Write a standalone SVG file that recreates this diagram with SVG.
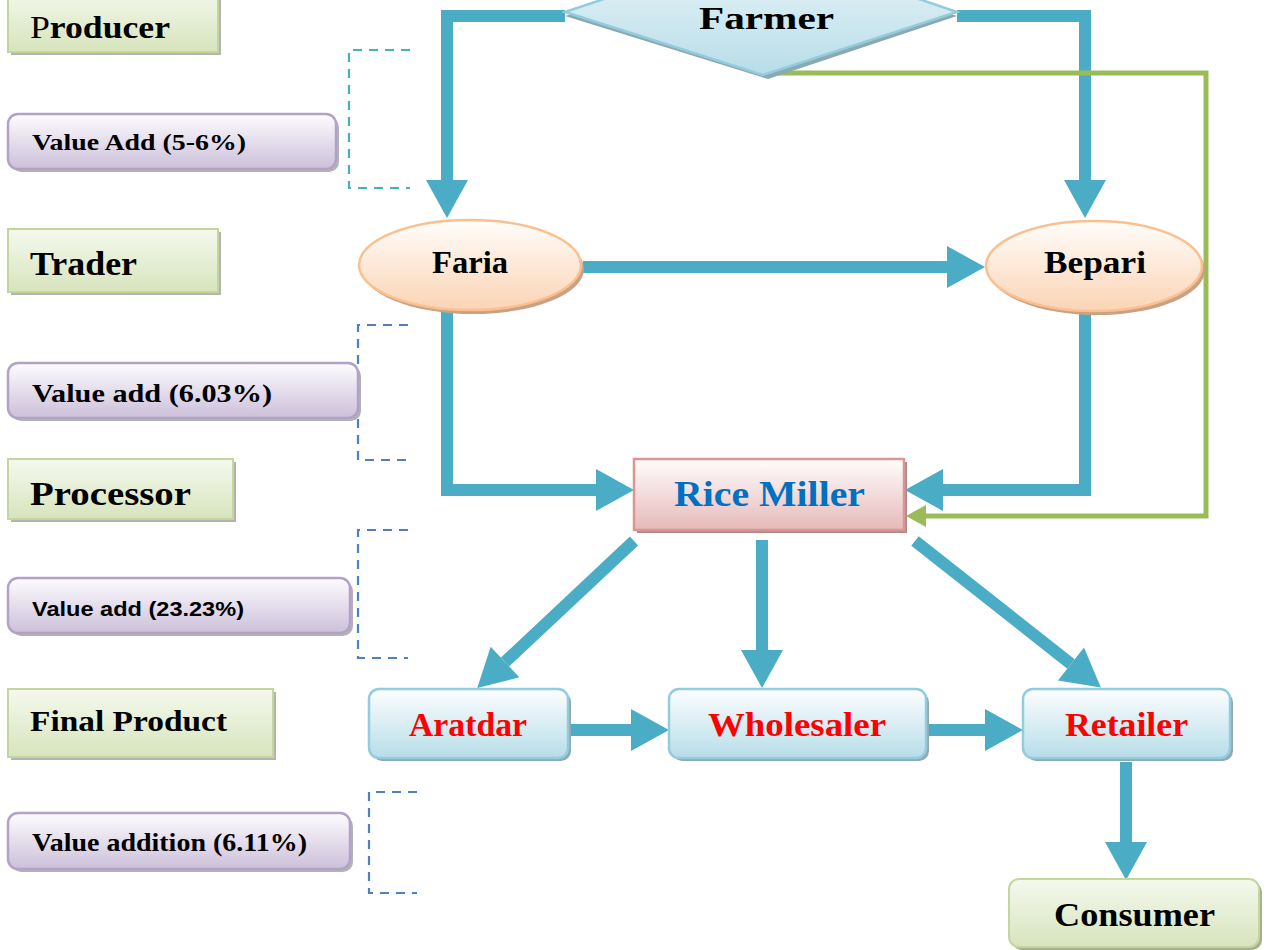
<svg xmlns="http://www.w3.org/2000/svg" width="1267" height="950" viewBox="0 0 1267 950">
<style>
.lbl{font-family:"Liberation Serif","DejaVu Serif",serif;font-weight:bold;fill:#000}
.sans{font-family:"Liberation Sans","Open Sans",sans-serif;font-weight:bold;fill:#000}
.red{fill:#ff0000}
.green{fill:url(#gGreen);stroke:#c3d69b;stroke-width:2}
.purple{fill:url(#gPurple);stroke:#b3a2c7;stroke-width:2.5}
.blue{fill:url(#gBlue);stroke:#93cddd;stroke-width:2.5}
.orange{fill:url(#gOrange);stroke:#fac090;stroke-width:2.5}
.shadow{fill:#9a9a9a;opacity:0.75}
.flow{fill:none;stroke:#4bacc6;stroke-width:12;marker-end:url(#ah)}
.fb{fill:none;stroke:#9bbb59;stroke-width:5;marker-end:url(#ahg)}
.brk{fill:none;stroke:#4f81bd;stroke-width:2.2;stroke-dasharray:9,7}
.brk2{fill:none;stroke:#4bacc6;stroke-width:2.2;stroke-dasharray:9,7}
</style>
<defs>
<linearGradient id="gGreen" x1="0" y1="0" x2="0" y2="1"><stop offset="0" stop-color="#f5f9ee"/><stop offset="1" stop-color="#d7e4bd"/></linearGradient>
<linearGradient id="gPurple" x1="0" y1="0" x2="0" y2="1"><stop offset="0" stop-color="#fdfcfe"/><stop offset="1" stop-color="#ccc0da"/></linearGradient>
<linearGradient id="gBlue" x1="0" y1="0" x2="0" y2="1"><stop offset="0" stop-color="#fdfeff"/><stop offset="1" stop-color="#b7dde8"/></linearGradient>
<linearGradient id="gOrange" x1="0" y1="0" x2="0" y2="1"><stop offset="0" stop-color="#fffdfb"/><stop offset="1" stop-color="#fbd4b4"/></linearGradient>
<linearGradient id="gPink" x1="0" y1="0" x2="0" y2="1"><stop offset="0" stop-color="#fffdfd"/><stop offset="1" stop-color="#e6b9b8"/></linearGradient>
<linearGradient id="gDiamond" x1="0" y1="0" x2="0" y2="1"><stop offset="0" stop-color="#eef7fa"/><stop offset="1" stop-color="#b7dde8"/></linearGradient>
<marker id="ah" markerUnits="userSpaceOnUse" markerWidth="40" markerHeight="42" refX="0" refY="21" orient="auto" overflow="visible"><path d="M0,0 L38,21 L0,42 z" fill="#4bacc6"/></marker>
<marker id="ahg" markerUnits="userSpaceOnUse" markerWidth="22" markerHeight="22" refX="0" refY="11" orient="auto" overflow="visible"><path d="M0,0 L20,11 L0,22 z" fill="#9bbb59"/></marker>
</defs>

<g id="brackets">
<path class="brk2" d="M410,50 H349 V188 H410"/>
<path class="brk" d="M408,325 H358 V460 H408"/>
<path class="brk" d="M408,530 H358 V658 H408"/>
<path class="brk" d="M417,792 H369 V893 H417"/>
</g>

<g id="connectors">
<path class="flow" d="M565,16 H447 V180"/>
<path class="flow" d="M957,16 H1085 V180"/>
<path class="flow" d="M583,267 H947"/>
<path class="flow" d="M447,311 V490 H596"/>
<path class="flow" d="M1085,313 V490 H943"/>
<path class="fb" d="M775,73 H1206 V516 H926"/>
<path class="flow" d="M634,541 L505,662"/>
<path class="flow" d="M762,540 V650"/>
<path class="flow" d="M915,541 L1071,664"/>
<path class="flow" d="M568,730 H631"/>
<path class="flow" d="M926,730 H985"/>
<path class="flow" d="M1126,762 V842"/>
</g>

<g id="producer">
<rect class="shadow" x="11" y="-10" width="210" height="65"/>
<rect class="green" x="8" y="-13" width="210" height="65"/>
<text class="lbl" x="30" y="38" font-size="32" textLength="140" lengthAdjust="spacingAndGlyphs"><tspan style="font-weight:normal">P</tspan>roducer</text>
</g>
<g id="value1">
<rect class="shadow" x="11" y="117" width="328" height="55" rx="10"/>
<rect class="purple" x="8" y="114" width="328" height="55" rx="10"/>
<text class="lbl" x="32" y="150" font-size="23" textLength="214" lengthAdjust="spacingAndGlyphs">Value Add (5-6%)</text>
</g>
<g id="trader">
<rect class="shadow" x="11" y="232" width="210" height="63"/>
<rect class="green" x="8" y="229" width="210" height="63"/>
<text class="lbl" x="30" y="275" font-size="34" textLength="107" lengthAdjust="spacingAndGlyphs">Trader</text>
</g>
<g id="value2">
<rect class="shadow" x="11" y="366" width="350" height="55" rx="10"/>
<rect class="purple" x="8" y="363" width="350" height="55" rx="10"/>
<text class="lbl" x="32" y="402" font-size="25" textLength="240" lengthAdjust="spacingAndGlyphs">Value add (6.03%)</text>
</g>
<g id="processor">
<rect class="shadow" x="11" y="462" width="225" height="60"/>
<rect class="green" x="8" y="459" width="225" height="60"/>
<text class="lbl" x="30" y="505" font-size="34" textLength="161" lengthAdjust="spacingAndGlyphs">Processor</text>
</g>
<g id="value3">
<rect class="shadow" x="11" y="581" width="342" height="55" rx="10"/>
<rect class="purple" x="8" y="578" width="342" height="55" rx="10"/>
<text class="sans" x="32" y="616" font-size="21" textLength="212" lengthAdjust="spacingAndGlyphs">Value add (23.23%)</text>
</g>
<g id="finalproduct">
<rect class="shadow" x="11" y="692" width="265" height="68"/>
<rect class="green" x="8" y="689" width="265" height="68"/>
<text class="lbl" x="30" y="731" font-size="30" textLength="197" lengthAdjust="spacingAndGlyphs">Final Product</text>
</g>
<g id="value4">
<rect class="shadow" x="11" y="816" width="342" height="56" rx="10"/>
<rect class="purple" x="8" y="813" width="342" height="56" rx="10"/>
<text class="lbl" x="32" y="851" font-size="25" textLength="275" lengthAdjust="spacingAndGlyphs">Value addition (6.11%)</text>
</g>

<g id="farmer">
<polygon points="565,16 763,-50 957,16 768,79" fill="#8aa9b3"/>
<polygon points="565,12 763,-54 957,12 763,75" fill="url(#gDiamond)" stroke="#93cddd" stroke-width="2.5"/>
<text class="lbl" x="699" y="29" font-size="32" textLength="135" lengthAdjust="spacingAndGlyphs">Farmer</text>
</g>
<g id="faria">
<ellipse cx="473" cy="269" rx="111" ry="45" fill="#c9a183"/>
<ellipse class="orange" cx="470" cy="265" rx="111" ry="45"/>
<text class="lbl" x="432" y="273" font-size="31" textLength="76" lengthAdjust="spacingAndGlyphs">Faria</text>
</g>
<g id="bepari">
<ellipse cx="1097" cy="270" rx="108" ry="45" fill="#c9a183"/>
<ellipse class="orange" cx="1094" cy="266" rx="108" ry="45"/>
<text class="lbl" x="1044" y="273" font-size="31" textLength="102" lengthAdjust="spacingAndGlyphs">Bepari</text>
</g>
<g id="ricemiller">
<rect x="637" y="462" width="270" height="71" fill="#b08a8a"/>
<rect x="634" y="459" width="270" height="71" fill="url(#gPink)" stroke="#d99694" stroke-width="2.5"/>
<text class="lbl" x="674" y="506" font-size="35" textLength="191" lengthAdjust="spacingAndGlyphs" style="fill:#0070c0">Rice Miller</text>
</g>
<g id="aratdar">
<rect x="372" y="692" width="199" height="69" rx="10" fill="#8fa9b1"/>
<rect class="blue" x="369" y="689" width="199" height="69" rx="10"/>
<text class="lbl red" x="409" y="736" font-size="33" textLength="118" lengthAdjust="spacingAndGlyphs">Aratdar</text>
</g>
<g id="wholesaler">
<rect x="672" y="692" width="257" height="69" rx="10" fill="#8fa9b1"/>
<rect class="blue" x="669" y="689" width="257" height="69" rx="10"/>
<text class="lbl red" x="708" y="736" font-size="33" textLength="178" lengthAdjust="spacingAndGlyphs">Wholesaler</text>
</g>
<g id="retailer">
<rect x="1026" y="692" width="207" height="69" rx="10" fill="#8fa9b1"/>
<rect class="blue" x="1023" y="689" width="207" height="69" rx="10"/>
<text class="lbl red" x="1065" y="736" font-size="33" textLength="123" lengthAdjust="spacingAndGlyphs">Retailer</text>
</g>
<g id="consumer">
<rect x="1012" y="882" width="250" height="68" rx="10" fill="#a4b090"/>
<rect class="green" x="1009" y="879" width="250" height="68" rx="10"/>
<text class="lbl" x="1054" y="926" font-size="33" textLength="161" lengthAdjust="spacingAndGlyphs">Consumer</text>
</g>
</svg>
